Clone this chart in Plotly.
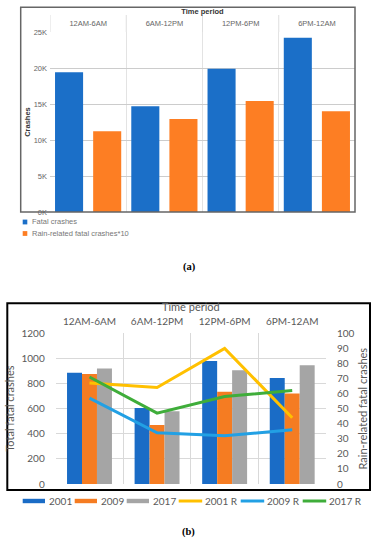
import plotly.graph_objects as go

W, H = 379, 550

# ---------------- data: panel (a) ----------------
periods = ["12AM-6AM", "6AM-12PM", "12PM-6PM", "6PM-12AM"]
fatal_crashes = [19400, 14700, 19900, 24200]
rain_fatal_x10 = [11200, 12900, 15400, 14000]
a_tickvals = [0, 5000, 10000, 15000, 20000, 25000]
a_ticktext = ["0K", "5K", "10K", "15K", "20K", "25K"]
a_names = ["Fatal crashes", "Rain-related fatal crashes*10"]

# ---------------- data: panel (b) ----------------
total_2001 = [885, 605, 980, 845]
total_2009 = [875, 470, 735, 720]
total_2017 = [920, 580, 905, 945]
rain_2001 = [67, 64, 90, 44]
rain_2009 = [57, 34, 32, 36]
rain_2017 = [71, 47, 58, 62]
b_bar_names = ["2001", "2009", "2017"]
b_line_names = ["2001 R", "2009 R", "2017 R"]

A_COLORS = ["#1b6fc8", "#fd7e23"]
B_BAR_COLORS = ["#1a6cc6", "#f57c22", "#a5a5a5"]
B_LINE_COLORS = ["#ffc000", "#22a0e4", "#3fad3a"]

A_FONT = "Liberation Sans"
B_FONT = "Lato"
B_TXT = "#595959"


def fx(px):
    return px / W


def fy(py):
    return 1 - py / H


fig = go.Figure()

# ---- panel (a) bars ----
a_series = [fatal_crashes, rain_fatal_x10]
a_width = 0.368
a_offsets = [-0.434, 0.066]
for vals, name, col, off in zip(a_series, a_names, A_COLORS, a_offsets):
    fig.add_trace(go.Bar(x=periods, y=vals, name=name, marker=dict(color=col, line=dict(width=0)),
                         width=a_width, offset=off, xaxis="x", yaxis="y", showlegend=False))

# ---- panel (b) bars ----
b_bars = [total_2001, total_2009, total_2017]
b_width = 0.2216
b_offsets = [-0.3324, -0.1108, 0.1108]
for vals, name, col, off in zip(b_bars, b_bar_names, B_BAR_COLORS, b_offsets):
    fig.add_trace(go.Bar(x=periods, y=vals, name=name, marker=dict(color=col, line=dict(width=0)),
                         width=b_width, offset=off, xaxis="x2", yaxis="y2", showlegend=False))

# ---- panel (b) lines ----
b_lines = [rain_2001, rain_2009, rain_2017]
for vals, name, col in zip(b_lines, b_line_names, B_LINE_COLORS):
    fig.add_trace(go.Scatter(x=periods, y=vals, name=name, mode="lines",
                             line=dict(color=col, width=3), xaxis="x2", yaxis="y3", showlegend=False))

shapes = []
annotations = []

# header separators of panel (a)
for i in range(len(periods) + 1):
    shapes.append(dict(type="line", xref="x", yref="paper", x0=i - 0.5, x1=i - 0.5,
                       y0=fy(32), y1=fy(15), line=dict(color="#dedede", width=1)))

# frames
shapes.append(dict(type="rect", xref="paper", yref="paper", x0=fx(20.7), x1=fx(355), y0=fy(212),
                   y1=fy(7.3), line=dict(color="#666666", width=1.5)))
shapes.append(dict(type="rect", xref="paper", yref="paper", x0=fx(7.3), x1=fx(370), y0=fy(490),
                   y1=fy(303.3), line=dict(color="#000000", width=2)))

# legend (a)
for i, (name, col) in enumerate(zip(a_names, A_COLORS)):
    yc = 222 + i * 11.5
    shapes.append(dict(type="rect", xref="paper", yref="paper", x0=fx(22.7), x1=fx(27.3),
                       y0=fy(yc + 2.4), y1=fy(yc - 2.4), fillcolor=col, line=dict(width=0)))
    annotations.append(dict(xref="paper", yref="paper", x=fx(30.2), y=fy(yc), text=name,
                            showarrow=False, xanchor="left", yanchor="middle",
                            font=dict(family=A_FONT, size=7.5, color="#777777")))

# legend (b)
items = [(n, c, "bar") for n, c in zip(b_bar_names, B_BAR_COLORS)] + \
        [(n, c, "line") for n, c in zip(b_line_names, B_LINE_COLORS)]
xpos = 22.7
yc = 501
for name, col, kind in items:
    if kind == "bar":
        shapes.append(dict(type="rect", xref="paper", yref="paper", x0=fx(xpos), x1=fx(xpos + 22.3),
                           y0=fy(yc + 2.2), y1=fy(yc - 2.2), fillcolor=col, line=dict(width=0)))
    else:
        shapes.append(dict(type="line", xref="paper", yref="paper", x0=fx(xpos), x1=fx(xpos + 23.5),
                           y0=fy(yc), y1=fy(yc), line=dict(color=col, width=3)))
    annotations.append(dict(xref="paper", yref="paper", x=fx(xpos + 24.5), y=fy(yc), text=name,
                            showarrow=False, xanchor="left", yanchor="middle",
                            font=dict(family=B_FONT, size=10, color=B_TXT)))
    xpos += 25 + 5.0 * len(name) + 7

# panel labels
annotations.append(dict(xref="paper", yref="paper", x=fx(189), y=fy(266.7), text="<b>(a)</b>",
                        showarrow=False, font=dict(family="Liberation Serif", size=10.5, color="#000")))
annotations.append(dict(xref="paper", yref="paper", x=fx(188.5), y=fy(540), text="<b>(b)</b>",
                        showarrow=False, font=dict(family="Liberation Serif", size=10.5, color="#000")))

fig.update_layout(
    width=W, height=H,
    margin=dict(l=0, r=0, t=0, b=0, autoexpand=False),
    paper_bgcolor="white", plot_bgcolor="white",
    barmode="overlay",
    showlegend=False,
    shapes=shapes,
    annotations=annotations,
    xaxis=dict(domain=[fx(50), fx(355)], anchor="y", type="category", side="top", automargin=False,
               range=[-0.5, len(periods) - 0.5], tickson="boundaries", showgrid=True,
               gridcolor="#e3e3e3", gridwidth=1, ticks="", ticklabelstandoff=4,
               tickfont=dict(family=A_FONT, size=7.5, color="#666666"),
               title=dict(text="<b>Time period</b>", standoff=2,
                          font=dict(family=A_FONT, size=7.5, color="#333333")),
               showline=False, zeroline=False, fixedrange=True),
    yaxis=dict(domain=[fy(212), fy(32)], anchor="x", range=[0, 25000], automargin=False,
               tickvals=a_tickvals, ticktext=a_ticktext, showgrid=True, gridcolor="#cccccc",
               gridwidth=1, zeroline=False, showline=False, ticks="", ticklabelstandoff=2,
               tickfont=dict(family=A_FONT, size=7.5, color="#666666"),
               title=dict(text="<b>Crashes</b>", standoff=2,
                          font=dict(family=A_FONT, size=7.5, color="#333333"))),
    xaxis2=dict(domain=[fx(55.7), fx(326)], anchor="y2", type="category", side="top", automargin=False,
                range=[-0.5, len(periods) - 0.5], tickson="boundaries", showgrid=True,
                gridcolor="#d9d9d9", gridwidth=1, ticks="", ticklabelstandoff=5,
                tickfont=dict(family=B_FONT, size=10, color=B_TXT),
                title=dict(text="Time period", standoff=1,
                           font=dict(family=B_FONT, size=11, color=B_TXT)),
                showline=False, zeroline=False),
    yaxis2=dict(domain=[fy(484), fy(333.3)], anchor="x2", range=[0, 1200], dtick=200, automargin=False,
                showgrid=True, gridcolor="#d9d9d9", gridwidth=1, zeroline=False, showline=False,
                ticks="", ticklabelstandoff=10,
                tickfont=dict(family=B_FONT, size=10, color=B_TXT),
                title=dict(text="Total fatal crashes", standoff=4,
                           font=dict(family=B_FONT, size=11, color=B_TXT))),
    yaxis3=dict(domain=[fy(484), fy(333.3)], anchor="x2", overlaying="y2", side="right", automargin=False,
                range=[0, 100], dtick=10, showgrid=False, zeroline=False, showline=False,
                ticks="", ticklabelstandoff=10,
                tickfont=dict(family=B_FONT, size=10, color=B_TXT),
                title=dict(text="Rain-related fatal crashes", standoff=5,
                           font=dict(family=B_FONT, size=11, color=B_TXT))),
)

fig.write_html("out.html", config={"displayModeBar": False},
               post_script="document.body.style.margin='0';")
